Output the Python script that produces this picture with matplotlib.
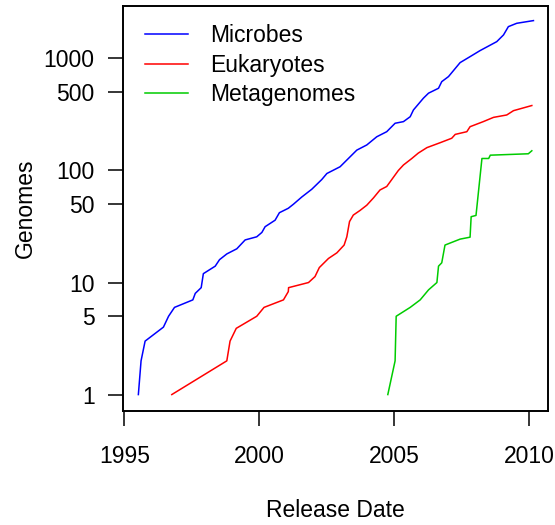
import numpy as np
import matplotlib
matplotlib.use("Agg")
import matplotlib.pyplot as plt
from matplotlib.ticker import FixedLocator, NullLocator

plt.rcParams['font.family'] = ['Liberation Sans', 'DejaVu Sans']

# Genomes released over time
microbes_year = [1995.52, 1995.62, 1995.77, 1996.45, 1996.64, 1996.86, 1997.54, 1997.63,
                 1997.85, 1997.93, 1998.37, 1998.53, 1998.80, 1999.17, 1999.48, 1999.91,
                 2000.10, 2000.22, 2000.59, 2000.75, 2001.08, 2001.27, 2001.58, 2001.95,
                 2002.32, 2002.51, 2003.00, 2003.62, 2003.99, 2004.36, 2004.73, 2005.04,
                 2005.35, 2005.60, 2005.72, 2006.09, 2006.28, 2006.65, 2006.77, 2007.02,
                 2007.45, 2007.82, 2008.19, 2008.81, 2009.06, 2009.24, 2009.55, 2010.17]
microbes = [1, 2, 3, 4, 5, 6, 7, 8, 9, 12, 14, 16, 18, 20, 24, 25.6,
            28, 31.5, 36, 42, 46, 50, 58, 68, 83, 94, 108, 152, 169, 200, 222, 264,
            273, 302, 347, 442, 490, 542, 621, 689, 918, 1038, 1175, 1413, 1622, 1923, 2060, 2177]

euk_year = [1996.76, 1998.80, 1998.92, 1999.15, 1999.91, 2000.18, 2000.90, 2001.08,
            2001.09, 2001.83, 2002.07, 2002.23, 2002.57, 2002.88, 2003.15, 2003.25,
            2003.35, 2003.49, 2003.74, 2003.99, 2004.24, 2004.48, 2004.73, 2005.16,
            2005.35, 2005.66, 2005.90, 2006.22, 2006.71, 2007.14, 2007.27, 2007.70,
            2007.82, 2008.31, 2008.69, 2009.18, 2009.43, 2010.11]
eukaryotes = [1, 2, 3, 3.9, 5, 6, 7, 8.3, 9, 10, 11.3, 13.6, 16.4, 18.4, 21.6, 25.6,
              35, 40, 44, 49, 57, 67, 72, 100, 112, 128, 143, 160, 177, 194, 210, 222,
              246, 273, 298, 313, 342, 380]

meta_year = [2004.77, 2005.04, 2005.08, 2005.60, 2005.97, 2006.28, 2006.59, 2006.65,
             2006.77, 2006.89, 2007.45, 2007.82, 2007.86, 2008.04, 2008.26, 2008.51,
             2008.57, 2009.98, 2010.11]
metagenomes = [1, 2, 5, 6, 7, 8.6, 10, 14, 15, 21.6, 24.4, 25.4, 38.7, 39.7, 128, 128,
               137, 141, 150]

x_ticks = [1995, 2000, 2005, 2010]
y_ticks = [1, 5, 10, 50, 100, 500, 1000]

fig = plt.figure(figsize=(5.55, 5.25), dpi=100)
ax = fig.add_axes([0.2216, 0.2171, 0.7658, 0.7715])

ax.plot(microbes_year, microbes, color='#0000FF', lw=1.1, label='Microbes')
ax.plot(euk_year, eukaryotes, color='#FF0000', lw=1.1, label='Eukaryotes')
ax.plot(meta_year, metagenomes, color='#00CC00', lw=1.1, label='Metagenomes')

ax.set_yscale('log')
ax.set_xlim(1994.95, 2010.71)
ax.set_ylim(0.713, 2940)
ax.yaxis.set_major_locator(FixedLocator(y_ticks))
ax.yaxis.set_minor_locator(NullLocator())
ax.set_yticklabels([str(v) for v in y_ticks])
ax.set_xticks(x_ticks)
ax.set_xticklabels([str(v) for v in x_ticks])

ax.tick_params(axis='both', labelsize=16.5, length=10.5, width=1.1, direction='out')
ax.tick_params(axis='x', pad=14)
ax.tick_params(axis='y', pad=10)
for s in ax.spines.values():
    s.set_linewidth(1.4)

ax.set_xlabel('Release Date', fontsize=16.5, labelpad=22)
ax.set_ylabel('Genomes', fontsize=16.5, labelpad=5)

ax.legend(loc='upper left', bbox_to_anchor=(0.03, 0.977), frameon=False, fontsize=16.5,
          handlelength=1.9, handletextpad=0.95, labelspacing=0.28, borderaxespad=0)

fig.savefig('out.png', dpi=100)
